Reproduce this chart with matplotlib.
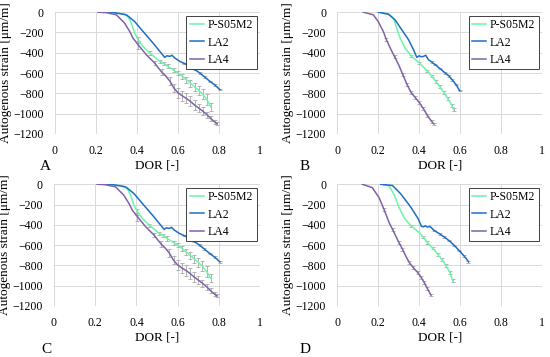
import matplotlib
matplotlib.use("Agg")
import matplotlib.pyplot as plt
import numpy as np

plt.rcParams['font.family'] = ['Liberation Serif', 'DejaVu Serif']

series_names = ['P-S05M2', 'LA2', 'LA4']
colors = ['#6af5a8', '#1f6ec4', '#8062a8']

# panel A
A_ps_x = [0.27, 0.33, 0.356, 0.372, 0.388, 0.405, 0.429, 0.462, 0.49, 0.511, 0.53, 0.55, 0.58, 0.60, 0.62, 0.64, 0.66, 0.68, 0.70, 0.72, 0.74, 0.76]
A_ps_y = [0, -15, -45, -108, -207, -272, -338, -403, -450, -485, -505, -535, -575, -600, -630, -665, -700, -735, -770, -810, -860, -935]
A_ps_e = [0, 0, 0, 0, 0, 30, 0, 15, 0, 15, 15, 20, 20, 20, 25, 30, 35, 40, 45, 50, 55, 40]
A_la2_x = [0.22, 0.274, 0.348, 0.388, 0.429, 0.478, 0.511, 0.535, 0.545, 0.560, 0.570, 0.584, 0.608, 0.63, 0.657, 0.68, 0.706, 0.73, 0.755, 0.78, 0.804]
A_la2_y = [0, 0, -26, -92, -190, -305, -387, -446, -430, -436, -425, -452, -485, -505, -534, -565, -600, -640, -682, -720, -764]
A_la2_e = [0, 0, 0, 0, 0, 0, 0, 0, 0, 0, 0, 0, 0, 8, 8, 8, 8, 8, 8, 8, 8]
A_la4_x = [0.209, 0.25, 0.299, 0.339, 0.364, 0.380, 0.405, 0.445, 0.486, 0.50, 0.52, 0.54, 0.56, 0.58, 0.60, 0.62, 0.64, 0.66, 0.68, 0.70, 0.72, 0.74, 0.76, 0.78, 0.79]
A_la4_y = [0, -5, -26, -108, -190, -256, -320, -420, -502, -540, -590, -630, -680, -750, -795, -825, -850, -880, -915, -945, -975, -1010, -1050, -1085, -1100]
A_la4_e = [0, 0, 0, 0, 0, 0, 40, 0, 20, 0, 30, 0, 40, 40, 50, 50, 50, 50, 45, 40, 35, 30, 25, 20, 15]

# panel B
B_ps_x = [0.2, 0.25, 0.274, 0.29, 0.307, 0.331, 0.36, 0.40, 0.44, 0.46, 0.48, 0.50, 0.52, 0.54, 0.56, 0.568]
B_ps_y = [0, -20, -59, -157, -256, -354, -430, -500, -580, -630, -680, -735, -790, -855, -920, -961]
B_ps_e = [0, 0, 0, 0, 0, 0, 12, 12, 12, 12, 15, 15, 15, 15, 15, 12]
B_la2_x = [0.2, 0.25, 0.282, 0.315, 0.348, 0.372, 0.388, 0.40, 0.41, 0.421, 0.432, 0.445, 0.46, 0.478, 0.50, 0.527, 0.545, 0.560, 0.58, 0.597]
B_la2_y = [0, -20, -75, -174, -272, -370, -446, -430, -440, -436, -425, -469, -490, -518, -555, -600, -630, -666, -715, -774]
B_la2_e = [0, 0, 0, 0, 0, 0, 0, 0, 0, 0, 0, 0, 8, 8, 8, 8, 8, 8, 8, 8]
B_la4_x = [0.127, 0.176, 0.2, 0.225, 0.24, 0.26, 0.28, 0.30, 0.32, 0.34, 0.36, 0.38, 0.40, 0.42, 0.44, 0.46, 0.47]
B_la4_y = [0, -26, -92, -190, -272, -360, -440, -520, -615, -710, -790, -840, -890, -950, -1020, -1075, -1100]
B_la4_e = [0, 0, 0, 0, 15, 0, 15, 0, 15, 15, 15, 15, 15, 15, 15, 15, 12]

# panel C
C_ps_x = [0.27, 0.33, 0.356, 0.372, 0.388, 0.405, 0.429, 0.462, 0.49, 0.511, 0.53, 0.55, 0.58, 0.60, 0.62, 0.64, 0.66, 0.68, 0.70, 0.72, 0.74, 0.76]
C_ps_y = [0, -15, -45, -108, -207, -272, -338, -403, -450, -485, -505, -535, -575, -600, -630, -665, -700, -735, -770, -810, -860, -925]
C_ps_e = [0, 0, 0, 0, 0, 30, 0, 15, 0, 15, 15, 20, 20, 20, 25, 30, 35, 40, 45, 50, 55, 40]
C_la2_x = [0.22, 0.274, 0.348, 0.388, 0.429, 0.478, 0.511, 0.535, 0.545, 0.560, 0.570, 0.584, 0.608, 0.63, 0.657, 0.68, 0.706, 0.73, 0.755, 0.78, 0.804]
C_la2_y = [0, 0, -26, -92, -190, -305, -387, -446, -430, -436, -425, -452, -485, -505, -534, -565, -600, -640, -682, -720, -764]
C_la2_e = [0, 0, 0, 0, 0, 0, 0, 0, 0, 0, 0, 0, 0, 8, 8, 8, 8, 8, 8, 8, 8]
C_la4_x = [0.209, 0.25, 0.299, 0.339, 0.364, 0.380, 0.405, 0.445, 0.486, 0.50, 0.52, 0.54, 0.56, 0.58, 0.60, 0.62, 0.64, 0.66, 0.68, 0.70, 0.72, 0.74, 0.76, 0.78, 0.79]
C_la4_y = [0, -5, -26, -108, -190, -256, -320, -420, -502, -540, -590, -630, -680, -750, -795, -825, -850, -880, -915, -945, -975, -1010, -1050, -1085, -1100]
C_la4_e = [0, 0, 0, 0, 0, 0, 40, 0, 20, 0, 30, 0, 40, 40, 50, 50, 50, 50, 45, 40, 35, 30, 25, 20, 15]

# panel D
D_ps_x = [0.212, 0.253, 0.277, 0.302, 0.326, 0.359, 0.40, 0.42, 0.44, 0.465, 0.49, 0.51, 0.53, 0.55, 0.563]
D_ps_y = [0, -16, -98, -230, -328, -410, -475, -520, -574, -630, -689, -740, -803, -870, -951]
D_ps_e = [0, 0, 0, 0, 0, 12, 0, 12, 12, 12, 15, 15, 15, 15, 15]
D_la2_x = [0.212, 0.27, 0.31, 0.359, 0.395, 0.411, 0.42, 0.43, 0.44, 0.452, 0.473, 0.50, 0.522, 0.545, 0.571, 0.595, 0.62, 0.64]
D_la2_y = [0, -13, -95, -226, -341, -416, -420, -410, -423, -415, -456, -490, -521, -555, -603, -655, -710, -764]
D_la2_e = [0, 0, 0, 0, 0, 0, 0, 0, 0, 0, 8, 8, 8, 8, 8, 8, 8, 8]
D_la4_x = [0.122, 0.171, 0.204, 0.228, 0.253, 0.27, 0.285, 0.30, 0.318, 0.335, 0.351, 0.37, 0.392, 0.41, 0.424, 0.44, 0.457]
D_la4_y = [0, -33, -131, -246, -377, -445, -508, -570, -639, -710, -770, -820, -869, -920, -967, -1030, -1092]
D_la4_e = [0, 0, 0, 15, 0, 15, 0, 15, 15, 0, 15, 15, 15, 15, 15, 15, 12]

panels = [
    ('A', [(A_ps_x, A_ps_y, A_ps_e), (A_la2_x, A_la2_y, A_la2_e), (A_la4_x, A_la4_y, A_la4_e)]),
    ('B', [(B_ps_x, B_ps_y, B_ps_e), (B_la2_x, B_la2_y, B_la2_e), (B_la4_x, B_la4_y, B_la4_e)]),
    ('C', [(C_ps_x, C_ps_y, C_ps_e), (C_la2_x, C_la2_y, C_la2_e), (C_la4_x, C_la4_y, C_la4_e)]),
    ('D', [(D_ps_x, D_ps_y, D_ps_e), (D_la2_x, D_la2_y, D_la2_e), (D_la4_x, D_la4_y, D_la4_e)]),
]

# axes rectangles in figure fractions
rects = [
    [0.100, 0.625, 0.373, 0.341],
    [0.613, 0.625, 0.373, 0.341],
    [0.098, 0.143, 0.375, 0.341],
    [0.613, 0.143, 0.373, 0.341],
]
label_pos = [(0.072, 0.525), (0.545, 0.525), (0.075, 0.01), (0.545, 0.01)]

fig = plt.figure(figsize=(5.5, 3.57), dpi=100)
for (letter, data), rect, lp in zip(panels, rects, label_pos):
    ax = fig.add_axes(rect)
    for (x, y, e), name, c in zip(data, series_names, colors):
        x = np.array(x); y = np.array(y); e = np.array(e)
        m = e > 0
        ax.errorbar(x[m], y[m], yerr=e[m], fmt='none', ecolor='#a8a8a8',
                    elinewidth=0.6, capsize=1.3, capthick=0.6, zorder=2)
        ax.plot(x, y, color=c, lw=1.1, label=name, zorder=3)
    ax.set_xlim(0, 1)
    ax.set_ylim(-1200, 0)
    ax.set_xticks(np.arange(0, 1.01, 0.2))
    ax.set_xticklabels(['0', '0.2', '0.4', '0.6', '0.8', '1'])
    ax.set_yticks(np.arange(-1200, 1, 200))
    ax.grid(True, color='#d9d9d9', lw=0.7)
    ax.set_axisbelow(True)
    for s in ax.spines.values():
        s.set_visible(False)
    ax.tick_params(length=0, labelsize=8.5, pad=8)
    ax.set_xlabel('DOR [-]', fontsize=9.5, labelpad=2)
    ax.set_ylabel('Autogenous strain [μm/m]', fontsize=9.5, labelpad=1)
    leg = ax.legend(loc='upper right', fontsize=8.5, handlelength=1.2,
                    handletextpad=0.3, labelspacing=0.45, borderaxespad=0.3,
                    fancybox=False, framealpha=1, borderpad=0.3)
    leg.get_frame().set_edgecolor('#404040')
    leg.get_frame().set_linewidth(0.7)
    fig.text(lp[0], lp[1], letter, fontsize=11)

fig.savefig('out.png', dpi=100)
